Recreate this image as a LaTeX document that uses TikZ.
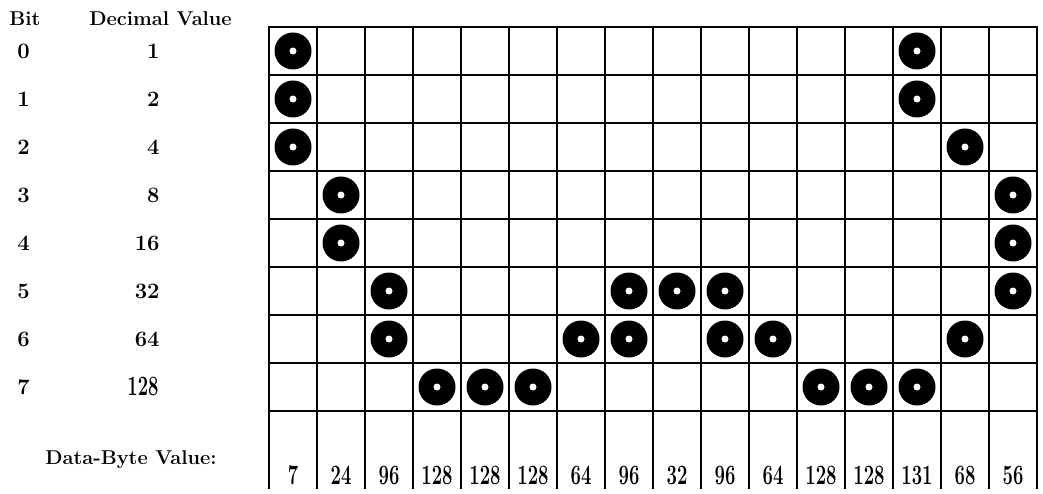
\documentclass[tikz,border=0pt]{standalone}
\usepackage{tikz}
\usetikzlibrary{calc}
\newcommand{\cond}[1]{\scalebox{0.66}[1]{#1}}

\begin{document}
\begin{tikzpicture}[x=1pt, y=-1pt, line width=2.8pt, line cap=rect,
  hd/.style={font=\fontsize{20}{24}\selectfont\bfseries, inner sep=0pt},
  lbl/.style={font=\fontsize{22}{26}\selectfont\bfseries, inner sep=0pt},
  val/.style={font=\fontsize{28}{32}\selectfont\bfseries, inner sep=0pt}]
  \useasboundingbox (0,0) rectangle (1043,494);
  % headings
  \node[hd, anchor=base west] (bit) at (8,26) {Bit};
  \node[hd, anchor=base west] (dec) at (88,26) {Decimal Value};
  \node[hd, anchor=base east] (dbv) at (218,464) {Data-Byte Value:};
  % bit numbers and their weights
  \foreach \b/\w in {0/1, 1/2, 2/4, 3/8, 4/16, 5/32, 6/64} {
    \node[lbl, anchor=west] (b\b) at (16,51+48*\b) {\b};
    \node[lbl, anchor=east] (w\b) at (161,51+48*\b) {\w};
  }
  \node[lbl, anchor=west] (b7) at (16,387) {7};
  \node[val, anchor=base east] (w7) at (160,395) {\cond{128}};
  % grid
  \foreach \i in {0,...,8}
    \draw (269,27+48*\i) -- (1037,27+48*\i);
  \foreach \j in {0,...,16}
    \draw (269+48*\j,27) -- (269+48*\j,488);
  % columns: byte value / bits set
  \foreach \v/\bits [count=\c from 0] in {7/{0,1,2}, 24/{3,4}, 96/{5,6},
      128/{7}, 128/{7}, 128/{7}, 64/{6}, 96/{5,6}, 32/{5}, 96/{5,6},
      64/{6}, 128/{7}, 128/{7}, 131/{0,1,7}, 68/{2,6}, 56/{3,4,5}} {
    \node[val, anchor=base] (v\c) at (293+48*\c,484) {\cond{\v}};
    \foreach \b in \bits {
      \fill (293+48*\c,51+48*\b) circle (18.5);
      \fill[white] (293+48*\c,51+48*\b) circle (3.5);
    }
  }
\end{tikzpicture}
\end{document}
